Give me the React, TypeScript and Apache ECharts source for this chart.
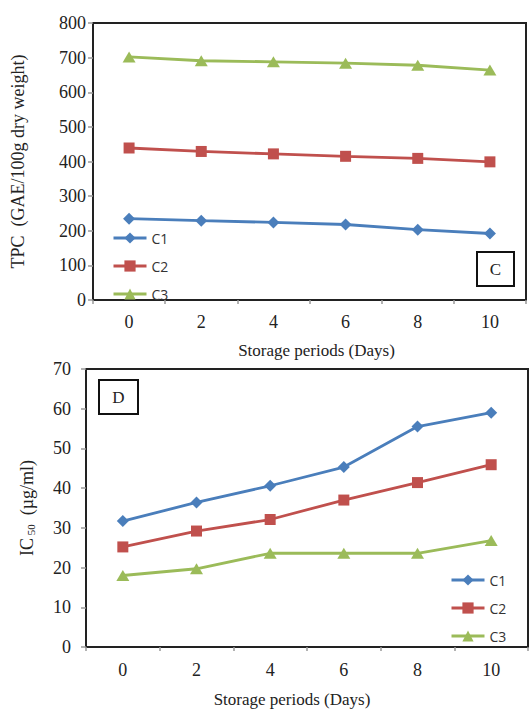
import React, { useEffect, useRef } from "react";
import * as echarts from "echarts";

const days = ["0", "2", "4", "6", "8", "10"];
const tpcC1 = [235, 229, 224, 218, 203, 192];
const tpcC2 = [439, 429, 422, 415, 409, 399];
const tpcC3 = [702, 691, 688, 684, 678, 664];
const icC1 = [31.7, 36.4, 40.6, 45.3, 55.5, 59.0];
const icC2 = [25.2, 29.2, 32.1, 37.0, 41.4, 45.9];
const icC3 = [18.0, 19.7, 23.6, 23.6, 23.6, 26.8];
const seriesNames = ["C1", "C2", "C3"];

const COLORS = ["#4a7ebb", "#c0504d", "#9bbb59"];
const SYMBOLS = ["diamond", "rect", "triangle"];
const SIZES: any[] = [12, 11, [13, 11]];
const SERIF = "'Liberation Serif', 'Times New Roman', serif";
const SANS = "'Open Sans', 'Liberation Sans', Arial, sans-serif";

export default function App() {
  const ref = useRef<HTMLDivElement>(null);
  useEffect(() => {
    if (!ref.current) return;
    const chart = echarts.init(ref.current, null, { renderer: "svg" });
    const mkSeries = (data: number[], i: number, gi: number) => ({
      name: seriesNames[i],
      type: "line",
      xAxisIndex: gi,
      yAxisIndex: gi,
      data,
      symbol: SYMBOLS[i],
      symbolSize: SIZES[i],
      lineStyle: { color: COLORS[i], width: 2.8 },
      itemStyle: { color: COLORS[i] },
      z: 3 - i + 2,
    });
    const xAxisCommon = (gi: number, padding: number[], gap: number, margin: number) => ({
      gridIndex: gi,
      type: "category",
      data: days,
      boundaryGap: true,
      name: "Storage periods (Days)",
      nameLocation: "middle",
      nameGap: gap,
      nameTextStyle: { fontFamily: SERIF, fontSize: 17, color: "#222", padding },
      axisLine: { show: true, lineStyle: { color: "#222", width: 2 } },
      axisTick: { show: true, length: 4, lineStyle: { color: "#999", width: 1.5 } },
      axisLabel: { fontFamily: SERIF, fontSize: 18, color: "#222", margin },
      splitLine: { show: false },
    });
    const legendCommon = (left: number, top: number) => ({
      data: seriesNames,
      orient: "vertical",
      left,
      top,
      itemWidth: 33,
      itemHeight: 14,
      itemGap: 14,
      lineStyle: { width: 3 },
      textStyle: { fontFamily: SANS, fontSize: 14, color: "#333" },
      selectedMode: false,
    });
    const option: any = {
      animation: false,
      backgroundColor: "#fff",
      grid: [
        { left: 93, top: 23, right: 4, height: 277, show: true, borderColor: "#222", borderWidth: 2, containLabel: false },
        { left: 86, top: 369, right: 2, height: 278, show: true, borderColor: "#222", borderWidth: 2, containLabel: false },
      ],
      xAxis: [xAxisCommon(0, [0, 0, 0, 14], 42, 13), xAxisCommon(1, [0, 30, 0, 0], 44, 14)],
      yAxis: [
        {
          gridIndex: 0,
          type: "value",
          min: 0,
          max: 800,
          interval: 100,
          name: "TPC  (GAE/100g dry weight)",
          nameLocation: "middle",
          nameRotate: 90,
          nameGap: 66,
          nameTextStyle: { fontFamily: SERIF, fontSize: 18, color: "#222" },
          axisLine: { show: true, lineStyle: { color: "#222", width: 2 } },
          axisTick: { show: true, length: 5, lineStyle: { color: "#999", width: 1.5 } },
          axisLabel: { fontFamily: SERIF, fontSize: 18, color: "#222", margin: 7 },
          splitLine: { show: false },
        },
        {
          gridIndex: 1,
          type: "value",
          min: 0,
          max: 70,
          interval: 10,
          name: "IC{sub| 50}  (µg/ml)",
          nameLocation: "middle",
          nameRotate: 90,
          nameGap: 50,
          nameTextStyle: {
            fontFamily: SERIF,
            fontSize: 18,
            color: "#222",
            rich: {
              sub: { fontFamily: SERIF, fontSize: 11, color: "#222", verticalAlign: "bottom", padding: [6, 0, 0, 0] },
            },
          },
          axisLine: { show: true, lineStyle: { color: "#222", width: 2 } },
          axisTick: { show: true, length: 5, lineStyle: { color: "#999", width: 1.5 } },
          axisLabel: { fontFamily: SERIF, fontSize: 18, color: "#222", margin: 15 },
          splitLine: { show: false },
        },
      ],
      legend: [legendCommon(107, 226), legendCommon(445, 568)],
      graphic: [
        {
          type: "group",
          left: 476,
          top: 251,
          children: [
            { type: "rect", shape: { x: 0, y: 0, width: 37, height: 34 }, style: { fill: "#fff", stroke: "#111", lineWidth: 2 } },
            { type: "text", x: 18.5, y: 17, style: { text: "C", fontFamily: SERIF, fontSize: 17, fill: "#222", align: "center", verticalAlign: "middle" } },
          ],
        },
        {
          type: "group",
          left: 98,
          top: 379,
          children: [
            { type: "rect", shape: { x: 0, y: 0, width: 39, height: 34 }, style: { fill: "#fff", stroke: "#111", lineWidth: 2 } },
            { type: "text", x: 19.5, y: 17, style: { text: "D", fontFamily: SERIF, fontSize: 17, fill: "#222", align: "center", verticalAlign: "middle" } },
          ],
        },
      ],
      series: [
        mkSeries(tpcC1, 0, 0),
        mkSeries(tpcC2, 1, 0),
        mkSeries(tpcC3, 2, 0),
        mkSeries(icC1, 0, 1),
        mkSeries(icC2, 1, 1),
        mkSeries(icC3, 2, 1),
      ],
    };
    chart.setOption(option);
    return () => chart.dispose();
  }, []);
  return <div ref={ref} style={{ position: "fixed", left: 0, top: 0, width: 530, height: 711, background: "#fff" }} />;
}
